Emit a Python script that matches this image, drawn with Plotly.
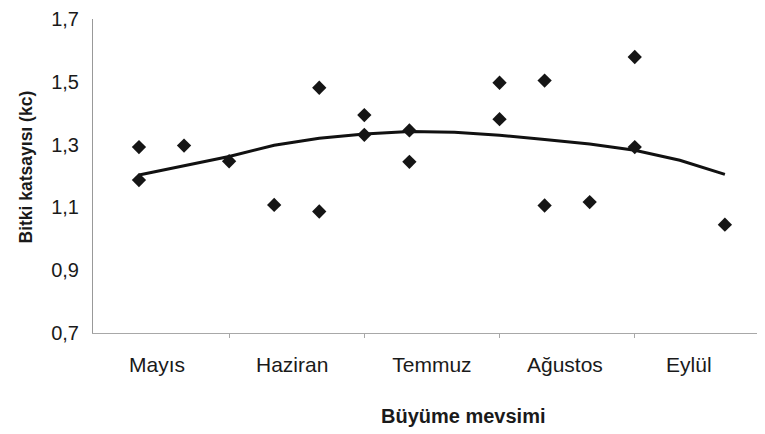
import plotly.graph_objects as go

# ---- data ----
months = ["Mayıs", "Haziran", "Temmuz", "Ağustos", "Eylül"]
month_label_pos = [0.4, 3.4, 6.5, 9.45, 12.2]   # category-slot positions of month labels
month_bounds = [2, 5, 8, 11]                     # slots where month tick marks sit

obs_slot = [0, 0, 1, 2, 3, 4, 4, 5, 5, 6, 6, 8, 8, 9, 9, 10, 11, 11, 13]
kc_obs = [1.292, 1.187, 1.297, 1.247, 1.108, 1.481, 1.087, 1.394, 1.331,
          1.345, 1.245, 1.497, 1.381, 1.504, 1.106, 1.117, 1.579, 1.292, 1.045]

trend_slot = list(range(14))
kc_trend = [1.203, 1.232, 1.262, 1.298, 1.320, 1.334, 1.342,
            1.339, 1.330, 1.316, 1.302, 1.282, 1.250, 1.205]

y_ticks = [0.7, 0.9, 1.1, 1.3, 1.5, 1.7]
y_tick_labels = ["0,7", "0,9", "1,1", "1,3", "1,5", "1,7"]

x_title = "Büyüme mevsimi"
y_title = "Bitki katsayısı (kc)"

FONT = "Liberation Sans, Arial, sans-serif"
TXT = "#1a1a1a"

fig = go.Figure()
fig.add_trace(go.Scatter(
    x=trend_slot, y=kc_trend, mode="lines",
    line=dict(color="#111111", width=3), showlegend=False, hoverinfo="skip"))
fig.add_trace(go.Scatter(
    x=obs_slot, y=kc_obs, mode="markers",
    marker=dict(symbol="diamond", size=11, color="#151515"),
    showlegend=False))

# page body has an 8px margin, so the figure is sized to the visible area
OFF = 8
W, H = 765 - OFF, 434 - OFF
ml, mr, mt, mb = 93 - OFF, 0, 19 - OFF, 101
pw, ph = W - ml - mr, H - mt - mb

def px_x(x):  # page pixel -> paper x
    return (x - OFF - ml) / pw

def px_y(y):  # page pixel -> paper y
    return (mt + ph - (y - OFF)) / ph

fig.update_layout(
    width=W, height=H,
    margin=dict(l=ml, r=mr, t=mt, b=mb, pad=0, autoexpand=False),
    paper_bgcolor="white", plot_bgcolor="white",
    font=dict(family=FONT, color=TXT),
    xaxis=dict(
        range=[-1.02, 13.89], showgrid=False, zeroline=False, automargin=False,
        showline=True, linecolor="#a8a8a8", linewidth=1,
        tickmode="array", tickvals=month_label_pos, ticktext=months,
        ticks="", tickfont=dict(size=21, color=TXT, family=FONT),
        ticklabelstandoff=13, ticklabeloverflow="allow",
        minor=dict(tickmode="array", tickvals=month_bounds, ticks="outside",
                   ticklen=4, tickcolor="#a8a8a8", tickwidth=1, showgrid=False),
    ),
    yaxis=dict(
        range=[0.7, 1.7], showgrid=False, zeroline=False, automargin=False,
        showline=True, linecolor="#999999", linewidth=1,
        tickmode="array", tickvals=y_ticks, ticktext=y_tick_labels,
        ticks="", tickfont=dict(size=20, color=TXT, family=FONT),
        ticklabelstandoff=9, ticklabeloverflow="allow",
    ),
    annotations=[
        dict(text=f"<b>{x_title}</b>", xref="paper", yref="paper",
             x=px_x(463), y=px_y(416),
             xanchor="center", yanchor="middle", showarrow=False,
             font=dict(size=20, color=TXT, family=FONT)),
        dict(text=f"<b>{y_title}</b>", xref="paper", yref="paper",
             x=px_x(26), y=px_y(167.5),
             xanchor="center", yanchor="middle", textangle=-90, showarrow=False,
             font=dict(size=17.5, color=TXT, family=FONT)),
    ],
)

fig.write_html("out.html")
